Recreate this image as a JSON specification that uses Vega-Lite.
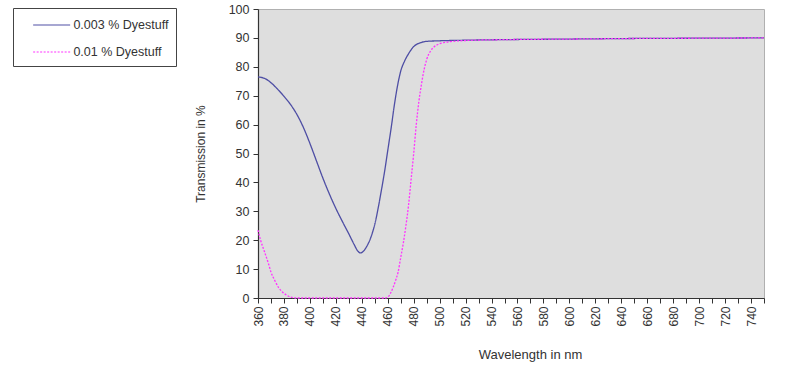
{
  "$schema": "https://vega.github.io/schema/vega-lite/v6.json",
  "autosize": {"type": "none"},
  "width": 506,
  "height": 289,
  "padding": {"left": 258, "top": 9, "right": 36, "bottom": 74},
  "background": "white",
  "config": {
    "view": {"fill": "#dedede", "stroke": "#b0b0b0", "strokeWidth": 1},
    "font": "Liberation Sans"
  },
  "data": {
    "values": [
      {"wl": 360, "t": 76.5, "s": "0.003 % Dyestuff"},
      {"wl": 365, "t": 76.0, "s": "0.003 % Dyestuff"},
      {"wl": 370, "t": 74.5, "s": "0.003 % Dyestuff"},
      {"wl": 375, "t": 72.3, "s": "0.003 % Dyestuff"},
      {"wl": 380, "t": 69.8, "s": "0.003 % Dyestuff"},
      {"wl": 385, "t": 67.0, "s": "0.003 % Dyestuff"},
      {"wl": 390, "t": 63.5, "s": "0.003 % Dyestuff"},
      {"wl": 395, "t": 59.0, "s": "0.003 % Dyestuff"},
      {"wl": 400, "t": 53.5, "s": "0.003 % Dyestuff"},
      {"wl": 405, "t": 47.5, "s": "0.003 % Dyestuff"},
      {"wl": 410, "t": 41.5, "s": "0.003 % Dyestuff"},
      {"wl": 415, "t": 36.0, "s": "0.003 % Dyestuff"},
      {"wl": 420, "t": 31.0, "s": "0.003 % Dyestuff"},
      {"wl": 425, "t": 26.5, "s": "0.003 % Dyestuff"},
      {"wl": 430, "t": 22.2, "s": "0.003 % Dyestuff"},
      {"wl": 434, "t": 18.6, "s": "0.003 % Dyestuff"},
      {"wl": 437, "t": 16.2, "s": "0.003 % Dyestuff"},
      {"wl": 439, "t": 15.6, "s": "0.003 % Dyestuff"},
      {"wl": 441, "t": 16.1, "s": "0.003 % Dyestuff"},
      {"wl": 444, "t": 18.0, "s": "0.003 % Dyestuff"},
      {"wl": 447, "t": 21.0, "s": "0.003 % Dyestuff"},
      {"wl": 450, "t": 25.5, "s": "0.003 % Dyestuff"},
      {"wl": 453, "t": 32.0, "s": "0.003 % Dyestuff"},
      {"wl": 455, "t": 37.0, "s": "0.003 % Dyestuff"},
      {"wl": 458, "t": 45.0, "s": "0.003 % Dyestuff"},
      {"wl": 460, "t": 51.0, "s": "0.003 % Dyestuff"},
      {"wl": 463, "t": 60.0, "s": "0.003 % Dyestuff"},
      {"wl": 465, "t": 66.5, "s": "0.003 % Dyestuff"},
      {"wl": 468, "t": 74.5, "s": "0.003 % Dyestuff"},
      {"wl": 470, "t": 78.5, "s": "0.003 % Dyestuff"},
      {"wl": 473, "t": 82.0, "s": "0.003 % Dyestuff"},
      {"wl": 476, "t": 84.5, "s": "0.003 % Dyestuff"},
      {"wl": 480, "t": 87.0, "s": "0.003 % Dyestuff"},
      {"wl": 485, "t": 88.3, "s": "0.003 % Dyestuff"},
      {"wl": 490, "t": 88.8, "s": "0.003 % Dyestuff"},
      {"wl": 500, "t": 89.0, "s": "0.003 % Dyestuff"},
      {"wl": 520, "t": 89.2, "s": "0.003 % Dyestuff"},
      {"wl": 550, "t": 89.4, "s": "0.003 % Dyestuff"},
      {"wl": 600, "t": 89.6, "s": "0.003 % Dyestuff"},
      {"wl": 650, "t": 89.8, "s": "0.003 % Dyestuff"},
      {"wl": 700, "t": 89.9, "s": "0.003 % Dyestuff"},
      {"wl": 750, "t": 90.0, "s": "0.003 % Dyestuff"},
      {"wl": 360, "t": 23.5, "s": "0.01 % Dyestuff"},
      {"wl": 362, "t": 20.0, "s": "0.01 % Dyestuff"},
      {"wl": 365, "t": 16.0, "s": "0.01 % Dyestuff"},
      {"wl": 368, "t": 12.0, "s": "0.01 % Dyestuff"},
      {"wl": 370, "t": 9.0, "s": "0.01 % Dyestuff"},
      {"wl": 373, "t": 6.0, "s": "0.01 % Dyestuff"},
      {"wl": 376, "t": 3.5, "s": "0.01 % Dyestuff"},
      {"wl": 379, "t": 2.0, "s": "0.01 % Dyestuff"},
      {"wl": 382, "t": 1.0, "s": "0.01 % Dyestuff"},
      {"wl": 385, "t": 0.3, "s": "0.01 % Dyestuff"},
      {"wl": 390, "t": 0.0, "s": "0.01 % Dyestuff"},
      {"wl": 400, "t": 0.0, "s": "0.01 % Dyestuff"},
      {"wl": 420, "t": 0.0, "s": "0.01 % Dyestuff"},
      {"wl": 440, "t": 0.0, "s": "0.01 % Dyestuff"},
      {"wl": 458, "t": 0.0, "s": "0.01 % Dyestuff"},
      {"wl": 460, "t": 0.3, "s": "0.01 % Dyestuff"},
      {"wl": 462, "t": 1.5, "s": "0.01 % Dyestuff"},
      {"wl": 464, "t": 3.5, "s": "0.01 % Dyestuff"},
      {"wl": 466, "t": 6.0, "s": "0.01 % Dyestuff"},
      {"wl": 468, "t": 9.0, "s": "0.01 % Dyestuff"},
      {"wl": 470, "t": 14.0, "s": "0.01 % Dyestuff"},
      {"wl": 472, "t": 19.0, "s": "0.01 % Dyestuff"},
      {"wl": 474, "t": 25.0, "s": "0.01 % Dyestuff"},
      {"wl": 476, "t": 32.0, "s": "0.01 % Dyestuff"},
      {"wl": 478, "t": 41.0, "s": "0.01 % Dyestuff"},
      {"wl": 480, "t": 50.0, "s": "0.01 % Dyestuff"},
      {"wl": 482, "t": 60.0, "s": "0.01 % Dyestuff"},
      {"wl": 484, "t": 68.0, "s": "0.01 % Dyestuff"},
      {"wl": 486, "t": 74.0, "s": "0.01 % Dyestuff"},
      {"wl": 488, "t": 79.0, "s": "0.01 % Dyestuff"},
      {"wl": 490, "t": 82.5, "s": "0.01 % Dyestuff"},
      {"wl": 493, "t": 85.5, "s": "0.01 % Dyestuff"},
      {"wl": 496, "t": 87.0, "s": "0.01 % Dyestuff"},
      {"wl": 500, "t": 88.0, "s": "0.01 % Dyestuff"},
      {"wl": 505, "t": 88.5, "s": "0.01 % Dyestuff"},
      {"wl": 510, "t": 88.8, "s": "0.01 % Dyestuff"},
      {"wl": 520, "t": 89.1, "s": "0.01 % Dyestuff"},
      {"wl": 550, "t": 89.4, "s": "0.01 % Dyestuff"},
      {"wl": 600, "t": 89.6, "s": "0.01 % Dyestuff"},
      {"wl": 650, "t": 89.8, "s": "0.01 % Dyestuff"},
      {"wl": 700, "t": 89.9, "s": "0.01 % Dyestuff"},
      {"wl": 750, "t": 90.0, "s": "0.01 % Dyestuff"}
    ]
  },
  "mark": {"type": "line", "interpolate": "monotone", "strokeWidth": 1.3},
  "encoding": {
    "x": {
      "field": "wl", "type": "quantitative",
      "scale": {"domain": [360, 750], "nice": false, "zero": false},
      "axis": {
        "title": "Wavelength  in nm",
        "values": [360,370,380,390,400,410,420,430,440,450,460,470,480,490,500,510,520,530,540,550,560,570,580,590,600,610,620,630,640,650,660,670,680,690,700,710,720,730,740,750],
        "labelExpr": "datum.value % 20 == 0 && datum.value < 750 ? datum.label : ''",
        "labelAngle": -90, "labelAlign": "right", "labelBaseline": "middle",
        "labelFontSize": 12, "labelColor": "#333333", "labelPadding": 3,
        "labelOverlap": false, "labelFlush": false,
        "grid": false, "domainColor": "#333333", "tickColor": "#333333",
        "tickSize": 5, "domainWidth": 1.2,
        "titleFontSize": 13, "titleFontWeight": "normal", "titleColor": "#333333",
        "titlePadding": 22, "titleX": 272, "titleAlign": "center"
      }
    },
    "y": {
      "field": "t", "type": "quantitative",
      "scale": {"domain": [0, 100], "nice": false},
      "axis": {
        "title": "Transmission in %",
        "values": [0,10,20,30,40,50,60,70,80,90,100],
        "labelFontSize": 12.5, "labelColor": "#333333", "labelPadding": 4,
        "grid": false, "domainColor": "#333333", "tickColor": "#333333",
        "tickSize": 5, "domainWidth": 1.2,
        "titleFontSize": 12, "titleFontWeight": "normal", "titleColor": "#333333",
        "titlePadding": 21
      }
    },
    "color": {
      "field": "s", "type": "nominal",
      "scale": {"domain": ["0.003 % Dyestuff", "0.01 % Dyestuff"], "range": ["#4e4ea4", "#ff33ff"]},
      "legend": {
        "orient": "none", "legendX": -245, "legendY": -1,
        "title": null, "strokeColor": "#444444", "padding": 7,
        "symbolType": "M-1,0H3", "symbolSize": 342, "symbolStrokeWidth": 1.2,
        "symbolOffset": 12.4,
        "labelFontSize": 12.5, "labelColor": "#333333", "labelOffset": 21,
        "rowPadding": 10
      }
    },
    "strokeDash": {
      "field": "s", "type": "nominal",
      "scale": {"domain": ["0.003 % Dyestuff", "0.01 % Dyestuff"], "range": [[1, 0], [2, 1.5]]},
      "legend": null
    }
  }
}
